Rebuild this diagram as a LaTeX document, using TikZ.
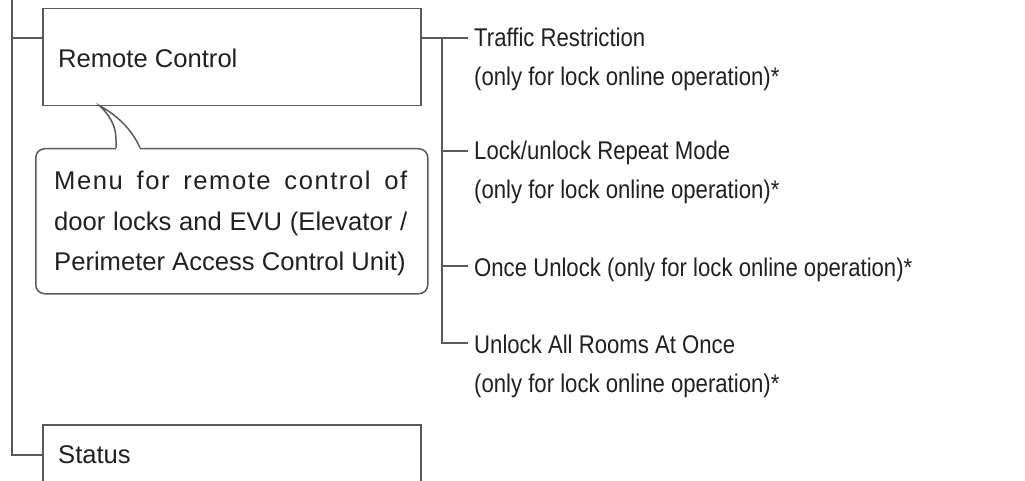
\documentclass[tikz,border=0pt]{standalone}
\usepackage{fontspec}
\setmainfont{Liberation Sans}
\newfontfamily\condfont[FakeStretch=0.865]{Liberation Sans}
\usetikzlibrary{calc}
\definecolor{linec}{HTML}{5A5A5A}
\definecolor{txtc}{HTML}{231F20}
\begin{document}
\begin{tikzpicture}[x=1pt,y=-1pt,
  line/.style={draw=linec,line width=1.5pt},
  menubox/.style={draw=linec,line width=1.5pt,rectangle,inner sep=0pt,
    minimum width=378pt,minimum height=97pt,anchor=north west},
  notebox/.style={draw=linec,line width=1.5pt,rectangle,rounded corners=9pt,inner sep=0pt,
    minimum width=392pt,minimum height=145pt,anchor=north west},
  lbl/.style={inner sep=0pt,anchor=base west,text=txtc,font=\fontsize{25.6pt}{30pt}\selectfont},
  item/.style={inner sep=0pt,anchor=base west,text=txtc,font=\fontsize{25.6pt}{30pt}\selectfont\condfont}]
\useasboundingbox (0,0) rectangle (1025,481);
\clip (0,0) rectangle (1025,481);
% boxes
\node[menubox] (rc) at (42,8) {};
\node[lbl] (rctext) at (58,68) {Remote Control};
\node[menubox] (st) at (42,424) {};
\node[lbl] (sttext) at (58,463) {Status};
% callout
\node[notebox] (note) at (35,148) {};
\coordinate (tip) at (100,106);
\fill[white] ($(note.north west)+(81,2)$) -- ($(note.north west)+(81,-8)$)
  .. controls (116,128) and (112,118) .. (tip)
  .. controls (122,118) and (134,134) .. ($(note.north west)+(105,0)$) -- ($(note.north west)+(105,2)$) -- cycle;
\draw[line] ($(note.north west)+(81,0)$) -- ($(note.north west)+(81,-8)$)
  .. controls (116,128) and (112,118) .. (tip)
  .. controls (122,118) and (134,134) .. ($(note.north west)+(105,0)$);
\node[lbl] (n1) at (54,190) {\addfontfeature{LetterSpace=6}\makebox[353pt][s]{Menu for remote control of}};
\node[lbl] (n2) at (54,230) {\makebox[353pt][s]{door locks and EVU (Elevator /}};
\node[lbl] (n3) at (54,270) {Perimeter Access Control Unit)};
% right items
\node[item] (t1) at (474,47) {Traffic Restriction};
\node[item] (t1b) at (474,86) {(only for lock online operation)*};
\node[item] (t2) at (474,160) {Lock/unlock Repeat Mode};
\node[item] (t2b) at (474,199) {(only for lock online operation)*};
\node[item] (t3) at (474,276) {Once Unlock (only for lock online operation)*};
\node[item] (t4) at (474,353) {Unlock All Rooms At Once};
\node[item] (t4b) at (474,392) {(only for lock online operation)*};
% left tree
\coordinate (ltop) at (12,0);
\draw[line] (ltop) |- ($(st.north west)+(0,31)$);
\draw[line] (ltop |- 0,38) -- ($(rc.north west)+(0,30)$);
% right tree
\draw[line] ($(rc.north east)+(0,30)$) -- ($(t1.base west)+(-6,-9)$);
\coordinate (bus) at (442,38);
\draw[line] (bus) |- ($(t4.base west)+(-6,-10)$);
\draw[line] (bus |- 0,151) -- ($(t2.base west)+(-6,-9)$);
\draw[line] (bus |- 0,266) -- ($(t3.base west)+(-6,-10)$);
\end{tikzpicture}
\end{document}
